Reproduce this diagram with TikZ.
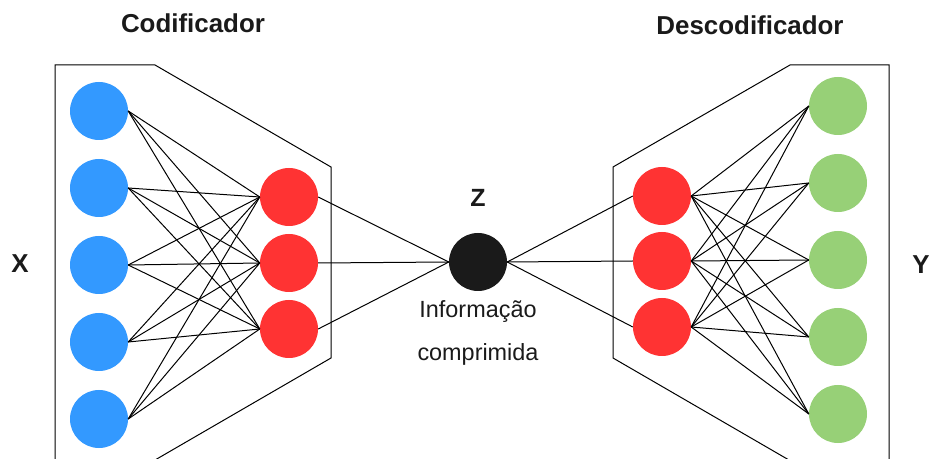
\documentclass[tikz,border=0pt]{standalone}
\usepackage{fontspec}
\setmainfont{Liberation Sans}
\definecolor{encblue}{HTML}{3399FF}
\definecolor{latred}{HTML}{FF3333}
\definecolor{decgreen}{HTML}{97D077}
\definecolor{codedark}{HTML}{1A1A1A}
\tikzset{
  neuron/.style={circle, minimum size=58bp, inner sep=0pt},
  inneuron/.style={neuron, fill=encblue},
  latneuron/.style={neuron, fill=latred},
  outneuron/.style={neuron, fill=decgreen},
  codeneuron/.style={neuron, fill=codedark},
  link/.style={draw=black, line width=1bp},
  frame/.style={draw=black, line width=1bp},
  heading/.style={font=\fontsize{26}{30}\selectfont\bfseries, text=codedark},
  caption/.style={font=\fontsize{23.5}{27}\selectfont, text=codedark},
}
\begin{document}
\begin{tikzpicture}[x=1bp, y=-1bp]
  \clip (0,0) rectangle (930,459);
  \fill[white] (0,0) rectangle (930,459);

  % encoder and decoder outlines
  \draw[frame] (55,480) -- (55,65) -- (155,65) -- (331,167) -- (331,358) -- (124,478);
  \draw[frame] (889,480) -- (889,65) -- (790,65) -- (613,167) -- (613,358) -- (820,478);

  % input layer
  \foreach \i/\y in {1/111, 2/188, 3/265, 4/342, 5/419}
    \node[inneuron] (x\i) at (99,\y) {};
  % encoder hidden layer
  \foreach \j/\y in {1/197, 2/263, 3/329}
    \node[latneuron] (e\j) at (289,\y) {};
  % code
  \node[codeneuron] (z) at (478,262) {};
  % decoder hidden layer
  \foreach \j/\y in {1/196, 2/261, 3/327}
    \node[latneuron] (d\j) at (662,\y) {};
  % output layer
  \foreach \i/\y in {1/106, 2/183, 3/260, 4/337, 5/414}
    \node[outneuron] (y\i) at (838,\y) {};

  % connections
  \foreach \i in {1,...,5}
    \foreach \j in {1,2,3}
      \draw[link] (x\i.east) -- (e\j.west);
  \foreach \j in {1,2,3}
    \draw[link] (e\j.east) -- (z.west);
  \foreach \j in {1,2,3}
    \draw[link] (z.east) -- (d\j.west);
  \foreach \j in {1,2,3}
    \foreach \i in {1,...,5}
      \draw[link] (d\j.east) -- (y\i.west);

  % labels
  \node[heading] (tenc) at (193,23) {Codificador};
  \node[heading] (tdec) at (750,25) {Descodificador};
  \node[heading] (tx) at (20,264) {X};
  \node[heading] (ty) at (921,265) {Y};
  \node[heading, font=\fontsize{25}{29}\selectfont\bfseries] (tz) at (478,198) {Z};
  \node[caption] (tinfo) at (478,312) {Informação};
  \node[caption] (tcomp) at (478,354) {comprimida};
\end{tikzpicture}
\end{document}
